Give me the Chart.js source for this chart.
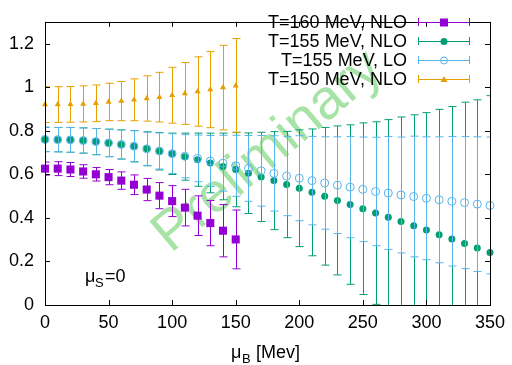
<!DOCTYPE html>
<html>
<head>
<meta charset="utf-8">
<script src="https://cdn.jsdelivr.net/npm/chart.js@4/dist/chart.umd.min.js"></script>
<style>
  body { margin: 0; background: #fff; }
  canvas { display: block; }
</style>
</head>
<body>
<canvas id="chart" width="512" height="365"></canvas>
<script>
// mu_B values (MeV)
const muShort = [0, 10, 20, 30, 40, 50, 60, 70, 80, 90, 100, 110, 120, 130, 140, 150];
const muLong = [0, 10, 20, 30, 40, 50, 60, 70, 80, 90, 100, 110, 120, 130, 140, 150, 160, 170,
                180, 190, 200, 210, 220, 230, 240, 250, 260, 270, 280, 290, 300, 310, 320, 330, 340, 350];

// T=160 MeV, NLO
const t160 = [0.626, 0.626, 0.622, 0.613, 0.600, 0.587, 0.571, 0.552, 0.530, 0.502, 0.477, 0.447, 0.410, 0.376, 0.341, 0.301];
const t160Err = [0.030, 0.032, 0.032, 0.031, 0.031, 0.035, 0.040, 0.045, 0.051, 0.060, 0.071, 0.084, 0.091, 0.104, 0.120, 0.135];

// T=155 MeV, NLO
const t155 = [0.760, 0.759, 0.758, 0.755, 0.750, 0.744, 0.737, 0.729, 0.717, 0.706, 0.694, 0.681, 0.667, 0.652, 0.636,
              0.622, 0.605, 0.588, 0.571, 0.553, 0.536, 0.517, 0.499, 0.480, 0.461, 0.442, 0.422, 0.403, 0.383,
              0.364, 0.344, 0.323, 0.303, 0.282, 0.262, 0.241];
const t155Err = [0.056, 0.056, 0.057, 0.058, 0.060, 0.063, 0.067, 0.072, 0.078, 0.086, 0.095, 0.108, 0.122, 0.137, 0.153,
                 0.171, 0.185, 0.205, 0.225, 0.244, 0.268, 0.291, 0.316, 0.342, 0.366, 0.394, 0.419, 0.448, 0.480,
                 0.509, 0.539, 0.575, 0.608, 0.649, 0.680, 0.720];

// T=155 MeV, LO
const t155lo = [0.760, 0.759, 0.758, 0.755, 0.750, 0.744, 0.737, 0.729, 0.717, 0.707, 0.695, 0.683, 0.673, 0.661, 0.651,
                0.639, 0.627, 0.616, 0.604, 0.592, 0.582, 0.571, 0.560, 0.550, 0.541, 0.531, 0.521, 0.514, 0.505,
                0.498, 0.490, 0.483, 0.476, 0.470, 0.463, 0.457];
const t155loErr = [0.056, 0.056, 0.057, 0.058, 0.060, 0.063, 0.067, 0.071, 0.076, 0.083, 0.091, 0.099, 0.107, 0.117, 0.128,
                   0.140, 0.151, 0.162, 0.173, 0.182, 0.195, 0.203, 0.212, 0.222, 0.232, 0.240, 0.249, 0.259, 0.266,
                   0.277, 0.282, 0.289, 0.297, 0.303, 0.309, 0.314];

// T=150 MeV, NLO
const t150 = [0.920, 0.920, 0.921, 0.923, 0.926, 0.932, 0.936, 0.942, 0.948, 0.954, 0.963, 0.971, 0.980, 0.989, 0.998, 1.007];
const t150Err = [0.082, 0.082, 0.082, 0.083, 0.084, 0.086, 0.090, 0.096, 0.104, 0.114, 0.128, 0.142, 0.159, 0.175, 0.194, 0.216];

const xTicks = [0, 50, 100, 150, 200, 250, 300, 350];
const yTicks = [0, 0.2, 0.4, 0.6, 0.8, 1, 1.2];

const FONT = '"Liberation Sans", Arial, sans-serif';

function pts(xs, ys) {
    return xs.map((x, i) => ({ x: x, y: ys[i] }));
}

// error bars, drawn just before each dataset's points
const errorBars = {
    id: 'errorBars',
    beforeDatasetDraw(chart, args) {
        const ds = chart.data.datasets[args.index];
        const ctx = chart.ctx;
        const xs = chart.scales.x, ys = chart.scales.y;
        const area = chart.chartArea;
        ctx.save();
        ctx.beginPath();
        ctx.rect(area.left, area.top, area.right - area.left, area.bottom - area.top);
        ctx.clip();
        ctx.strokeStyle = ds.borderColor;
        ctx.lineWidth = 1;
        ds.data.forEach((p, i) => {
            const px = Math.round(xs.getPixelForValue(p.x)) + 0.5;
            const top = ys.getPixelForValue(p.y + ds.errors[i]);
            const bot = ys.getPixelForValue(p.y - ds.errors[i]);
            ctx.beginPath();
            ctx.moveTo(px, top); ctx.lineTo(px, bot);
            ctx.moveTo(px - 4, top); ctx.lineTo(px + 4, top);
            ctx.moveTo(px - 4, bot); ctx.lineTo(px + 4, bot);
            ctx.stroke();
        });
        ctx.restore();
    }
};

// watermark behind the data
const watermark = {
    id: 'watermark',
    beforeDatasetsDraw(chart) {
        const ctx = chart.ctx;
        ctx.save();
        ctx.translate(268, 152);
        ctx.rotate(-40 * Math.PI / 180);
        ctx.font = '56px ' + FONT;
        ctx.fillStyle = 'rgba(120, 210, 120, 0.65)';
        ctx.textAlign = 'center';
        ctx.textBaseline = 'middle';
        ctx.fillText('Preliminary', 0, 0);
        ctx.restore();
    }
};

function drawMarker(ctx, style, color, x, y) {
    ctx.fillStyle = color;
    ctx.strokeStyle = color;
    ctx.beginPath();
    if (style === 'rect') {
        ctx.rect(x - 4, y - 4, 8, 8);
        ctx.fill();
    } else if (style === 'circle') {
        ctx.arc(x, y, 3.5, 0, Math.PI * 2);
        ctx.fill();
    } else if (style === 'open') {
        ctx.arc(x, y, 3.5, 0, Math.PI * 2);
        ctx.stroke();
    } else {
        ctx.moveTo(x, y - 3.5); ctx.lineTo(x + 3.5, y + 2.5); ctx.lineTo(x - 3.5, y + 2.5);
        ctx.closePath();
        ctx.fill();
    }
}

// frame, inward ticks, legend, labels
const frame = {
    id: 'frame',
    afterDraw(chart) {
        const ctx = chart.ctx;
        const a = chart.chartArea;
        const xs = chart.scales.x, ys = chart.scales.y;
        ctx.save();
        ctx.strokeStyle = '#000';
        ctx.lineWidth = 1;
        ctx.strokeRect(Math.round(a.left) + 0.5, Math.round(a.top) + 0.5,
                       Math.round(a.right - a.left), Math.round(a.bottom - a.top));
        ctx.beginPath();
        xTicks.forEach(v => {
            const px = Math.round(xs.getPixelForValue(v)) + 0.5;
            ctx.moveTo(px, a.bottom); ctx.lineTo(px, a.bottom - 5);
            ctx.moveTo(px, a.top); ctx.lineTo(px, a.top + 5);
        });
        yTicks.forEach(v => {
            const py = Math.round(ys.getPixelForValue(v)) + 0.5;
            ctx.moveTo(a.left, py); ctx.lineTo(a.left + 5, py);
            ctx.moveTo(a.right, py); ctx.lineTo(a.right - 5, py);
        });
        ctx.stroke();

        // legend
        ctx.font = '18px ' + FONT;
        ctx.textBaseline = 'middle';
        chart.data.datasets.forEach((ds, i) => {
            const y = 22 + i * 19;
            ctx.fillStyle = '#000';
            ctx.textAlign = 'right';
            ctx.fillText(ds.label, 407, y + 1);
            ctx.strokeStyle = ds.borderColor;
            ctx.beginPath();
            ctx.moveTo(418, y + 0.5); ctx.lineTo(470, y + 0.5);
            ctx.moveTo(418.5, y - 4); ctx.lineTo(418.5, y + 4);
            ctx.moveTo(469.5, y - 4); ctx.lineTo(469.5, y + 4);
            ctx.stroke();
            drawMarker(ctx, ds.marker, ds.borderColor, 444, y + 0.5);
        });

        // mu_S = 0 label
        ctx.fillStyle = '#000';
        ctx.textAlign = 'left';
        ctx.textBaseline = 'alphabetic';
        ctx.font = '18px ' + FONT;
        ctx.fillText('μ', 85, 282);
        ctx.font = '13px ' + FONT;
        ctx.fillText('S', 95, 287);
        ctx.font = '18px ' + FONT;
        ctx.fillText('=0', 105, 282);

        // x axis title
        ctx.fillText('μ', 231, 358);
        ctx.font = '13px ' + FONT;
        ctx.fillText('B', 242, 363);
        ctx.font = '18px ' + FONT;
        ctx.fillText('[Mev]', 256, 358);
        ctx.restore();
    }
};

const purple = '#9400d3', green = '#009e73', blue = '#56b4e9', orange = '#e69f00';

new Chart(document.getElementById('chart').getContext('2d'), {
    type: 'scatter',
    data: {
        datasets: [
            { label: 'T=160 MeV, NLO', data: pts(muShort, t160), errors: t160Err, marker: 'rect',
              pointStyle: 'rect', pointRadius: 5.7, backgroundColor: purple, borderColor: purple,
              borderWidth: 0, order: 4, clip: false },
            { label: 'T=155 MeV, NLO', data: pts(muLong, t155), errors: t155Err, marker: 'circle',
              pointStyle: 'circle', pointRadius: 3.5, backgroundColor: green, borderColor: green,
              borderWidth: 0, order: 3, clip: false },
            { label: 'T=155 MeV, LO', data: pts(muLong, t155lo), errors: t155loErr, marker: 'open',
              pointStyle: 'circle', pointRadius: 4, backgroundColor: 'rgba(0,0,0,0)', borderColor: blue,
              borderWidth: 1, order: 2, clip: false },
            { label: 'T=150 MeV, NLO', data: pts(muShort, t150), errors: t150Err, marker: 'triangle',
              pointStyle: 'triangle', pointRadius: 3.5, backgroundColor: orange, borderColor: orange,
              borderWidth: 0, order: 1, clip: false }
        ]
    },
    options: {
        responsive: false,
        animation: false,
        layout: { padding: { top: 7, right: 19, left: 0, bottom: 0 } },
        plugins: { legend: { display: false }, tooltip: { enabled: false } },
        scales: {
            x: {
                type: 'linear', min: 0, max: 350,
                afterBuildTicks: s => { s.ticks = xTicks.map(v => ({ value: v })); },
                afterFit: s => { s.height = 60; },
                ticks: { font: { size: 18, family: FONT }, color: '#000', padding: 7, maxRotation: 0 },
                grid: { display: false, drawTicks: false },
                border: { display: false }
            },
            y: {
                type: 'linear', min: 0, max: 1.3,
                afterBuildTicks: s => { s.ticks = yTicks.map(v => ({ value: v })); },
                afterFit: s => { s.width = 45; },
                ticks: { font: { size: 18, family: FONT }, color: '#000', padding: 11,
                         callback: v => String(v) },
                grid: { display: false, drawTicks: false },
                border: { display: false }
            }
        }
    },
    plugins: [watermark, errorBars, frame]
});
</script>
</body>
</html>
